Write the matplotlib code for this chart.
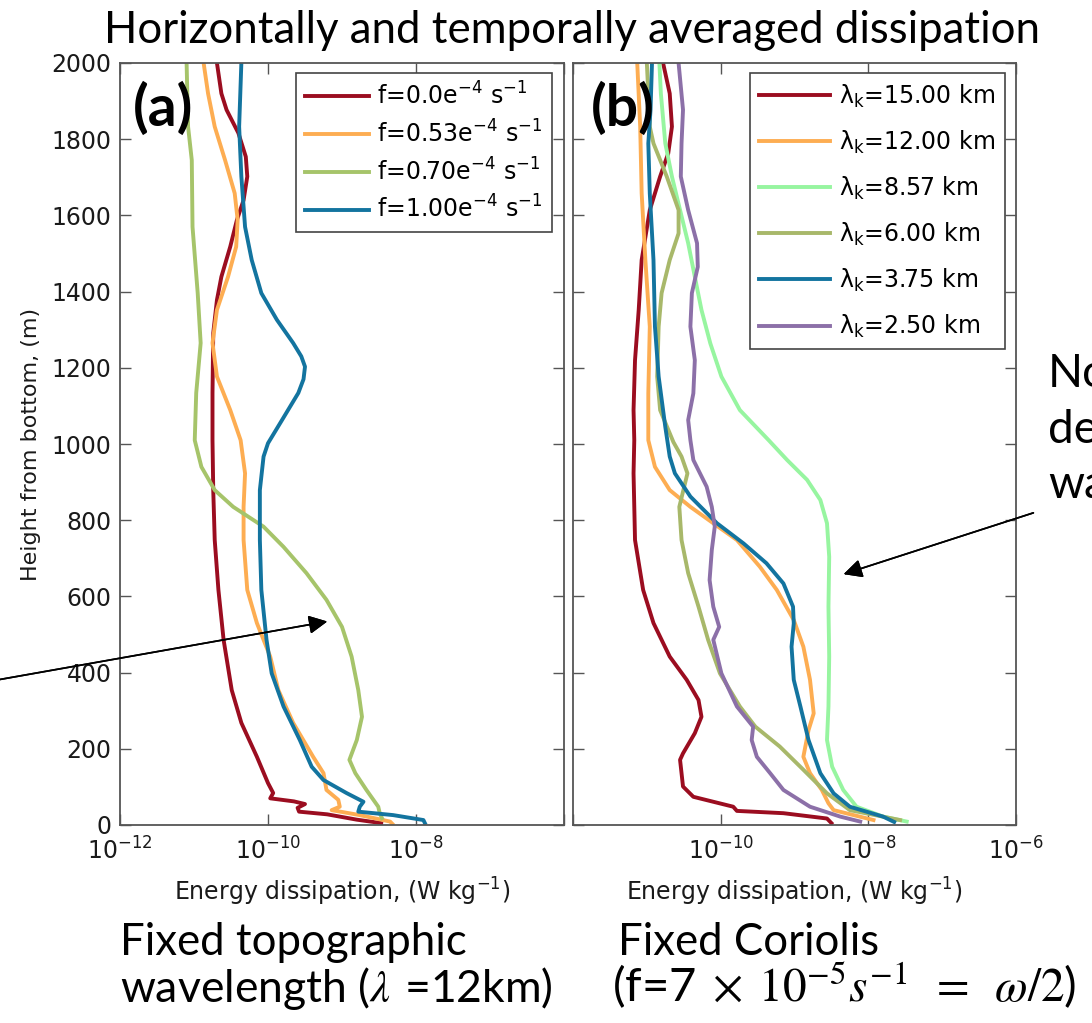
import numpy as np
import matplotlib.pyplot as plt
from matplotlib.ticker import NullLocator

# ---- panel (a): fixed topographic wavelength, varying Coriolis f ----
# heights (m) and log10 of dissipation (W/kg)
a_f00_h = [2000, 1920, 1877, 1816, 1754, 1702, 1640, 1588, 1518, 1439, 1378, 1291, 1134, 1010,
           879, 748, 617, 486, 354, 268, 179, 110, 84, 70, 62, 55, 45, 35, 28, 14, 5]
a_f00_e = [-10.69, -10.63, -10.56, -10.40, -10.30, -10.28, -10.33, -10.42, -10.51, -10.63, -10.69,
           -10.74, -10.75, -10.75, -10.74, -10.72, -10.67, -10.60, -10.49, -10.36, -10.15, -10.00,
           -9.93, -9.97, -9.65, -9.50, -9.60, -9.58, -9.20, -8.80, -8.47]

a_f053_h = [2000, 1920, 1833, 1745, 1658, 1588, 1518, 1439, 1352, 1265, 1177, 1089, 1010, 923, 835,
            748, 617, 530, 442, 354, 268, 179, 136, 92, 66, 48, 39, 26, 9, 3]
a_f053_e = [-10.87, -10.81, -10.72, -10.58, -10.45, -10.41, -10.43, -10.54, -10.69, -10.75, -10.69,
            -10.51, -10.37, -10.31, -10.33, -10.33, -10.28, -10.15, -9.97, -9.86, -9.66, -9.39,
            -9.25, -9.21, -9.05, -9.03, -9.14, -8.76, -8.35, -8.32]

a_f070_h = [2000, 1833, 1745, 1570, 1396, 1265, 1134, 1010, 940, 879, 835, 783, 730, 661, 591, 520,
            442, 354, 284, 223, 171, 136, 92, 48, 31, 18]
a_f070_e = [-11.10, -11.08, -11.03, -11.02, -10.95, -10.91, -10.97, -10.99, -10.90, -10.72, -10.47,
            -10.06, -9.79, -9.48, -9.21, -9.00, -8.87, -8.78, -8.73, -8.80, -8.90, -8.82, -8.67,
            -8.51, -8.49, -8.46]

a_f100_h = [2000, 1833, 1702, 1570, 1483, 1396, 1326, 1265, 1230, 1203, 1170, 1134, 1063, 1002,
            967, 879, 748, 617, 486, 398, 311, 223, 153, 118, 84, 61, 48, 35, 26, 13, 5]
a_f100_e = [-10.36, -10.39, -10.36, -10.31, -10.22, -10.09, -9.88, -9.66, -9.55, -9.50, -9.52,
            -9.59, -9.81, -10.00, -10.06, -10.11, -10.11, -10.09, -10.02, -9.95, -9.79, -9.57,
            -9.41, -9.25, -8.94, -8.71, -8.76, -8.78, -8.31, -7.90, -7.88]

# ---- panel (b): fixed Coriolis, varying topographic wavelength ----
b_k1500_h = [2000, 1920, 1833, 1763, 1702, 1614, 1483, 1352, 1220, 1089, 1010, 923, 748, 617, 530,
             442, 381, 328, 284, 241, 188, 171, 136, 101, 74, 61, 48, 37, 31, 17, 5]
b_k1500_e = [-10.78, -10.69, -10.66, -10.71, -10.82, -10.96, -11.07, -11.11, -11.16, -11.18,
             -11.17, -11.18, -11.16, -11.05, -10.91, -10.69, -10.46, -10.30, -10.26, -10.35,
             -10.51, -10.55, -10.53, -10.51, -10.37, -10.10, -9.83, -9.78, -9.15, -8.56, -8.50]

b_k1200_h = [2000, 1833, 1658, 1483, 1308, 1133, 1010, 940, 879, 835, 792, 748, 678, 617, 538, 468,
             381, 293, 249, 179, 136, 92, 57, 39, 26, 13]
b_k1200_e = [-11.13, -11.09, -11.07, -11.02, -10.96, -10.98, -10.98, -10.89, -10.69, -10.41, -10.10,
             -9.78, -9.47, -9.24, -9.01, -8.88, -8.79, -8.74, -8.81, -8.88, -8.79, -8.63, -8.54,
             -8.47, -8.20, -7.93]

b_k857_h = [2000, 1920, 1789, 1702, 1614, 1527, 1439, 1352, 1264, 1177, 1089, 1010, 958, 906, 853,
            792, 704, 573, 442, 311, 223, 153, 92, 48, 22, 9]
b_k857_e = [-10.83, -10.81, -10.75, -10.66, -10.55, -10.44, -10.35, -10.26, -10.14, -9.99, -9.74,
            -9.35, -9.10, -8.83, -8.65, -8.56, -8.53, -8.54, -8.53, -8.54, -8.56, -8.49, -8.34,
            -8.16, -7.80, -7.48]

b_k600_h = [2000, 1920, 1833, 1789, 1702, 1614, 1553, 1483, 1396, 1308, 1177, 1089, 1005, 967, 923,
            835, 748, 661, 573, 486, 398, 311, 258, 206, 145, 83, 39, 13]
b_k600_e = [-11.00, -10.98, -10.96, -10.91, -10.73, -10.57, -10.57, -10.69, -10.80, -10.84, -10.86,
            -10.82, -10.64, -10.53, -10.45, -10.56, -10.53, -10.44, -10.30, -10.17, -10.01, -9.74,
            -9.53, -9.20, -8.88, -8.56, -8.25, -7.57]

b_k375_h = [2000, 1877, 1789, 1658, 1483, 1308, 1177, 1045, 967, 923, 862, 792, 739, 687, 634, 573,
            529, 468, 381, 311, 223, 136, 83, 48, 22, 8]
b_k375_e = [-10.93, -10.95, -10.98, -10.96, -10.91, -10.89, -10.84, -10.75, -10.69, -10.62, -10.41,
            -10.05, -9.69, -9.38, -9.15, -9.02, -9.01, -9.04, -9.01, -8.92, -8.81, -8.65, -8.47,
            -8.25, -7.80, -7.65]

b_k250_h = [2000, 1877, 1789, 1702, 1614, 1527, 1465, 1396, 1308, 1220, 1133, 1063, 1010, 958, 888,
            835, 783, 722, 643, 573, 520, 486, 398, 311, 258, 223, 179, 136, 92, 48, 22, 9]
b_k250_e = [-10.57, -10.51, -10.53, -10.54, -10.44, -10.32, -10.31, -10.39, -10.41, -10.35, -10.37,
            -10.44, -10.41, -10.37, -10.19, -10.12, -10.08, -10.12, -10.15, -10.10, -10.02, -10.10,
            -9.99, -9.78, -9.56, -9.58, -9.51, -9.33, -9.15, -8.79, -8.38, -8.11]

a_labels = [r'f=0.0e$^{-4}$ s$^{-1}$', r'f=0.53e$^{-4}$ s$^{-1}$',
            r'f=0.70e$^{-4}$ s$^{-1}$', r'f=1.00e$^{-4}$ s$^{-1}$']
b_labels = ['λ$_\\mathrm{k}$=15.00 km', 'λ$_\\mathrm{k}$=12.00 km', 'λ$_\\mathrm{k}$=8.57 km',
            'λ$_\\mathrm{k}$=6.00 km', 'λ$_\\mathrm{k}$=3.75 km', 'λ$_\\mathrm{k}$=2.50 km']
height_ticks = list(range(0, 2001, 200))
x_ticks = [1e-12, 1e-10, 1e-8, 1e-6]

c_red = '#9b0d20'
c_orange = '#fdad52'
c_green = '#a6c46a'
c_lgreen = '#97f5a0'
c_olive = '#a8b86a'
c_blue = '#13749f'
c_purple = '#8c70a8'

a_series = [(a_f00_h, a_f00_e, c_red), (a_f053_h, a_f053_e, c_orange),
            (a_f070_h, a_f070_e, c_green), (a_f100_h, a_f100_e, c_blue)]
b_series = [(b_k1500_h, b_k1500_e, c_red), (b_k1200_h, b_k1200_e, c_orange),
            (b_k857_h, b_k857_e, c_lgreen), (b_k600_h, b_k600_e, c_olive),
            (b_k375_h, b_k375_e, c_blue), (b_k250_h, b_k250_e, c_purple)]

plt.rcParams['font.family'] = 'DejaVu Sans'
slide_font = ['Lato', 'DejaVu Sans']
txt_col = '#1a1a1a'

W, H = 1092, 1023
fig = plt.figure(figsize=(W / 100, H / 100), dpi=100)
ax1 = fig.add_axes([120 / W, 198 / H, 444 / W, 762 / H])
ax2 = fig.add_axes([573 / W, 198 / H, 443 / W, 762 / H])

for ax, series, labels in ((ax1, a_series, a_labels), (ax2, b_series, b_labels)):
    for (h, e, col), lab in zip(series, labels):
        ax.plot(10.0 ** np.array(e), h, color=col, lw=2.8, label=lab, solid_joinstyle='round')
    ax.set_xscale('log')
    ax.set_xlim(1e-12, 1e-6)
    ax.set_ylim(0, 2000)
    ax.xaxis.set_minor_locator(NullLocator())
    ax.tick_params(direction='in', top=True, right=True, length=8, width=1,
                   color='#555555', labelcolor=txt_col)
    ax.tick_params(axis='x', pad=9)
    ax.tick_params(axis='y', pad=6)
    for s in ax.spines.values():
        s.set_color('#555555')
        s.set_linewidth(1.3)
    ax.set_xlabel(r'Energy dissipation, (W kg$^{-1}$)', fontsize=17, color=txt_col, labelpad=8)

ax1.set_xticks(x_ticks, labels=[r'$10^{-12}$', r'$10^{-10}$', r'$10^{-8}$', ''], fontsize=17)
ax2.set_xticks(x_ticks, labels=['', r'$10^{-10}$', r'$10^{-8}$', r'$10^{-6}$'], fontsize=17)
ax1.set_yticks(height_ticks, labels=[str(t) for t in height_ticks], fontsize=17)
ax2.set_yticks(height_ticks, labels=[])
ax1.set_ylabel('Height from bottom, (m)', fontsize=16, color=txt_col, labelpad=8)

leg1 = ax1.legend(loc='upper right', bbox_to_anchor=(0.973, 0.987), fontsize=17,
                  handlelength=2.7, handletextpad=0.35, labelspacing=0.45, borderaxespad=0,
                  borderpad=0.4, fancybox=False, edgecolor='#444444', framealpha=1)
leg2 = ax2.legend(loc='upper right', bbox_to_anchor=(0.975, 0.987), fontsize=17,
                  handlelength=3.0, handletextpad=0.4, labelspacing=0.8, borderaxespad=0,
                  borderpad=0.4, fancybox=False, edgecolor='#444444', framealpha=1)
for leg in (leg1, leg2):
    leg.get_frame().set_linewidth(1.2)

ax1.text(0.03, 0.94, '(a)', transform=ax1.transAxes, fontsize=41, fontweight='bold',
         family=slide_font, va='center', ha='left')
ax2.text(0.04, 0.94, '(b)', transform=ax2.transAxes, fontsize=41, fontweight='bold',
         family=slide_font, va='center', ha='left')

# slide annotations
fig.text(0.524, 1 - 43 / H, 'Horizontally and temporally averaged dissipation',
         fontsize=31.5, family=slide_font, ha='center', va='baseline')
fig.text(120 / W, 1 - 955 / H, 'Fixed topographic', fontsize=31.5, family=slide_font, va='baseline')
fig.text(120 / W, 1 - 1002 / H, r'wavelength ($\lambda\;\,$=12km)', fontsize=32,
         family=slide_font, va='baseline', math_fontfamily='stix')
fig.text(618 / W, 1 - 955 / H, 'Fixed Coriolis', fontsize=31.5, family=slide_font, va='baseline')
fig.text(612 / W, 1 - 1002 / H,
         r'(f=7$\;\times\;10^{-5}s^{-1}\;\;=\;\;\omega/2$)', fontsize=34,
         family=slide_font, va='baseline', math_fontfamily='stix')
for word, base in (('Non-', 387), ('decaying', 443), ('waves', 498)):
    fig.text(1048 / W, 1 - base / H, word, fontsize=33, family=slide_font, va='baseline')

fig.add_artist(plt.annotate('', xy=(330 / W, 1 - 621 / H), xytext=(-20 / W, 1 - 683 / H),
                            xycoords='figure fraction', textcoords='figure fraction',
                            arrowprops=dict(arrowstyle='-|>', color='black', lw=1.2,
                                            mutation_scale=28)))
fig.add_artist(plt.annotate('', xy=(841 / W, 1 - 575 / H), xytext=(1036 / W, 1 - 512 / H),
                            xycoords='figure fraction', textcoords='figure fraction',
                            arrowprops=dict(arrowstyle='-|>', color='black', lw=1.2,
                                            mutation_scale=28)))

fig.savefig('out.png', dpi=100, facecolor='white')
